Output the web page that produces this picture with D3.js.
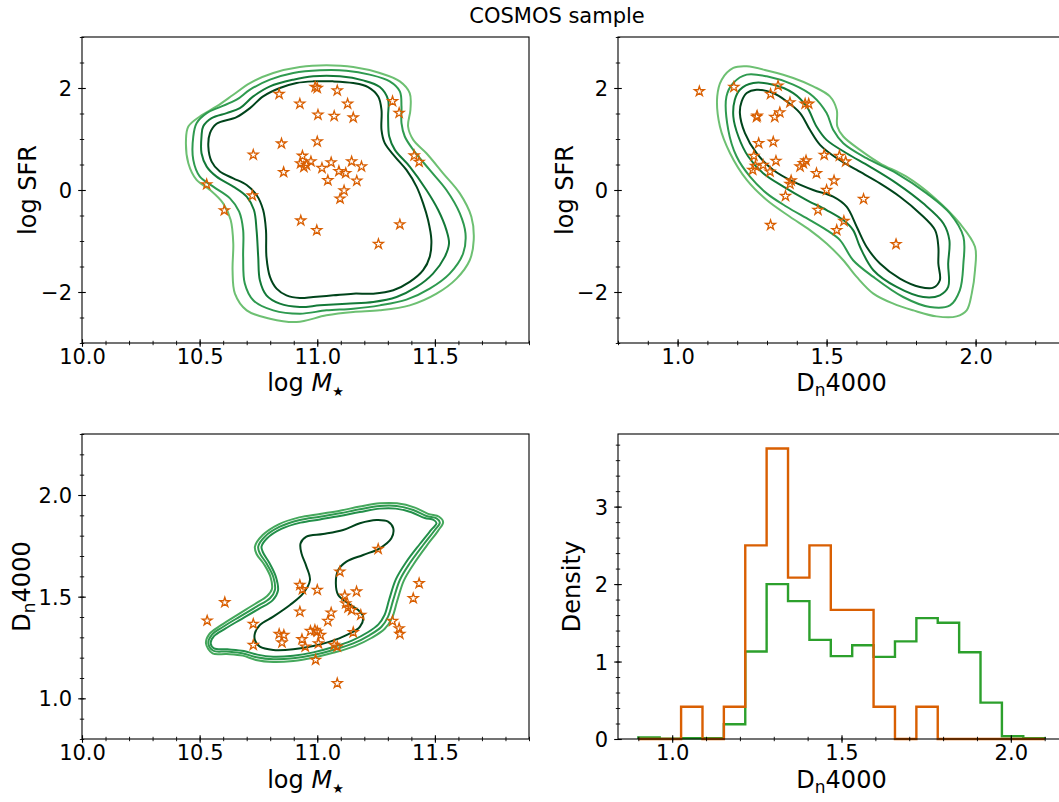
<!DOCTYPE html>
<html>
<head>
<meta charset="utf-8">
<script src="https://cdn.jsdelivr.net/npm/d3@7"></script>
<style>
  body { margin: 0; background: #fff; }
  text { font-family: "DejaVu Sans", sans-serif; fill: #000; }
</style>
</head>
<body>
<svg id="fig" width="1059" height="802"></svg>
<script>
// ---------------- data ----------------
// COSMOS galaxies: (log M*, log SFR)
const massSfrStars = [
  [10.838, 1.88], [10.991, 2.02], [11.0, 2.0], [11.085, 1.95], [10.926, 1.69],
  [11.129, 1.69], [11.003, 1.475], [11.072, 1.45], [11.153, 1.42], [11.32, 1.74],
  [11.348, 1.51], [10.848, 0.91], [11.0, 0.95], [10.728, 0.69], [10.937, 0.67],
  [10.929, 0.52], [10.943, 0.45], [10.973, 0.56], [10.954, 0.49], [10.857, 0.35],
  [11.02, 0.43], [11.059, 0.54], [11.146, 0.56], [11.188, 0.46], [11.092, 0.37],
  [11.121, 0.33], [11.045, 0.19], [11.168, 0.18], [11.114, -0.01], [11.097, -0.17],
  [11.412, 0.675], [11.433, 0.55], [10.53, 0.11], [10.724, -0.11], [10.605, -0.40],
  [10.93, -0.60], [10.998, -0.79], [11.351, -0.675], [11.26, -1.06]
];
// COSMOS galaxies: (Dn4000, log SFR)
const dnSfrStars = [
  [1.073, 1.934], [1.189, 2.019], [1.337, 2.045], [1.312, 1.881], [1.377, 1.717],
  [1.428, 1.691], [1.440, 1.691], [1.267, 1.455], [1.265, 1.43], [1.326, 1.43],
  [1.343, 1.52], [1.272, 0.918], [1.321, 0.944], [1.256, 0.669], [1.33, 0.57],
  [1.252, 0.393], [1.261, 0.472], [1.287, 0.49], [1.31, 0.36], [1.411, 0.459],
  [1.422, 0.524], [1.431, 0.577], [1.492, 0.688], [1.543, 0.669], [1.564, 0.557],
  [1.466, 0.328], [1.381, 0.184], [1.377, 0.118], [1.525, 0.184], [1.5, 0.0],
  [1.362, -0.118], [1.624, -0.177], [1.471, -0.393], [1.558, -0.61], [1.534, -0.787],
  [1.312, -0.688], [1.733, -1.062]
];
// COSMOS galaxies: (log M*, Dn4000)
const massDnStars = [
  [10.607, 1.472], [10.532, 1.382], [10.728, 1.366], [10.728, 1.262], [10.838, 1.316],
  [10.858, 1.311], [10.85, 1.274], [10.926, 1.557], [10.937, 1.536], [11.0, 1.533],
  [10.926, 1.426], [10.935, 1.29], [10.949, 1.254], [10.971, 1.331], [10.99, 1.336],
  [11.0, 1.328], [11.014, 1.311], [11.005, 1.27], [10.993, 1.189], [11.059, 1.421],
  [11.045, 1.38], [11.096, 1.623], [11.117, 1.505], [11.121, 1.467], [11.131, 1.446],
  [11.146, 1.434], [11.167, 1.525], [11.185, 1.41], [11.153, 1.325], [11.072, 1.262],
  [11.085, 1.254], [11.085, 1.074], [11.259, 1.734], [11.32, 1.38], [11.348, 1.344],
  [11.351, 1.316], [11.408, 1.492], [11.433, 1.566]
];

// Parent-sample density contours, innermost (highest level) first
const massSfrContour1 = [
  [10.572,1.298],[10.657,1.429],[10.714,1.606],[10.770,1.835],[10.841,1.999],[10.912,2.098],
  [10.983,2.130],[11.068,2.130],[11.153,2.098],[11.216,2.019],[11.259,1.835],[11.273,1.573],
  [11.273,1.180],[11.287,0.918],[11.330,0.656],[11.379,0.393],[11.422,0.066],[11.450,-0.262],
  [11.471,-0.590],[11.485,-0.983],[11.478,-1.311],[11.450,-1.573],[11.393,-1.803],[11.323,-1.967],
  [11.238,-2.032],[11.153,-2.032],[11.068,-2.065],[10.983,-2.098],[10.926,-2.117],[10.869,-2.065],
  [10.827,-1.934],[10.799,-1.704],[10.784,-1.311],[10.782,-0.787],[10.770,-0.393],[10.742,-0.098],
  [10.700,0.098],[10.643,0.229],[10.586,0.361],[10.551,0.557],[10.537,0.852],[10.544,1.114]
];
const massSfrContour2 = [
  [10.508,1.049],[10.515,1.245],[10.551,1.409],[10.615,1.508],[10.671,1.606],[10.728,1.835],
  [10.799,2.032],[10.898,2.163],[10.983,2.229],[11.096,2.229],[11.195,2.150],[11.266,2.019],
  [11.301,1.770],[11.301,1.442],[11.306,1.049],[11.330,0.787],[11.393,0.459],[11.464,0.0],
  [11.514,-0.393],[11.549,-0.787],[11.560,-1.049],[11.542,-1.311],[11.492,-1.639],[11.422,-1.901],
  [11.337,-2.098],[11.238,-2.196],[11.124,-2.229],[11.011,-2.262],[10.926,-2.294],[10.841,-2.229],
  [10.784,-2.065],[10.756,-1.770],[10.749,-1.311],[10.742,-0.787],[10.731,-0.393],[10.700,-0.131],
  [10.643,0.066],[10.572,0.262],[10.530,0.459],[10.508,0.721]
];
const massSfrContour3 = [
  [10.473,1.049],[10.487,1.311],[10.530,1.508],[10.586,1.626],[10.657,1.770],[10.714,1.967],
  [10.799,2.163],[10.898,2.294],[11.011,2.347],[11.124,2.340],[11.223,2.262],[11.308,2.130],
  [11.351,1.934],[11.358,1.639],[11.358,1.311],[11.372,1.049],[11.408,0.787],[11.478,0.393],
  [11.549,0.0],[11.606,-0.459],[11.630,-0.852],[11.620,-1.245],[11.563,-1.639],[11.478,-1.934],
  [11.379,-2.150],[11.266,-2.262],[11.153,-2.327],[11.039,-2.360],[10.926,-2.425],[10.813,-2.360],
  [10.728,-2.163],[10.692,-1.835],[10.685,-1.311],[10.685,-0.787],[10.668,-0.426],[10.629,-0.164],
  [10.558,0.066],[10.501,0.262],[10.473,0.590]
];
const massSfrContour4 = [
  [10.442,0.983],[10.452,1.245],[10.501,1.442],[10.572,1.639],[10.643,1.868],[10.714,2.098],
  [10.813,2.294],[10.926,2.412],[11.039,2.445],[11.153,2.412],[11.266,2.294],[11.351,2.130],
  [11.393,1.901],[11.396,1.573],[11.386,1.245],[11.408,0.983],[11.464,0.721],[11.535,0.328],
  [11.606,-0.066],[11.655,-0.524],[11.665,-0.983],[11.648,-1.377],[11.592,-1.737],[11.507,-2.032],
  [11.393,-2.262],[11.266,-2.360],[11.153,-2.393],[11.039,-2.458],[10.912,-2.589],[10.799,-2.524],
  [10.700,-2.360],[10.650,-2.032],[10.640,-1.573],[10.643,-1.049],[10.632,-0.590],[10.600,-0.262],
  [10.544,0.0],[10.487,0.197],[10.452,0.524]
];

const dnSfrContour1 = [
  [1.215,1.737],[1.232,1.901],[1.265,1.967],[1.321,1.901],[1.366,1.737],[1.411,1.508],
  [1.444,1.180],[1.478,0.885],[1.534,0.623],[1.601,0.393],[1.679,0.131],[1.746,-0.131],
  [1.813,-0.459],[1.864,-0.787],[1.875,-1.114],[1.875,-1.442],[1.880,-1.770],[1.858,-1.914],
  [1.813,-1.901],[1.746,-1.737],[1.679,-1.442],[1.634,-1.114],[1.601,-0.721],[1.567,-0.328],
  [1.522,-0.131],[1.455,0.0],[1.388,0.164],[1.321,0.393],[1.265,0.721],[1.226,1.114],[1.209,1.508]
];
const dnSfrContour2 = [
  [1.192,1.770],[1.209,1.967],[1.254,2.098],[1.321,2.065],[1.388,1.901],[1.433,1.639],
  [1.466,1.245],[1.500,0.983],[1.567,0.721],[1.645,0.459],[1.735,0.131],[1.824,-0.262],
  [1.892,-0.656],[1.912,-0.983],[1.908,-1.442],[1.908,-1.901],[1.880,-2.065],[1.824,-2.098],
  [1.735,-1.901],[1.657,-1.573],[1.612,-1.114],[1.589,-0.787],[1.556,-0.590],[1.500,-0.393],
  [1.433,-0.197],[1.355,0.066],[1.287,0.328],[1.237,0.656],[1.204,1.049],[1.187,1.442]
];
const dnSfrContour3 = [
  [1.164,1.835],[1.187,2.098],[1.232,2.262],[1.299,2.229],[1.388,2.065],[1.455,1.835],
  [1.500,1.508],[1.522,1.180],[1.556,0.918],[1.634,0.623],[1.735,0.328],[1.836,-0.066],
  [1.914,-0.459],[1.959,-0.918],[1.959,-1.442],[1.947,-1.967],[1.914,-2.262],[1.847,-2.294],
  [1.757,-2.098],[1.657,-1.704],[1.589,-1.377],[1.545,-0.983],[1.500,-0.787],[1.444,-0.590],
  [1.366,-0.328],[1.299,-0.066],[1.243,0.262],[1.198,0.656],[1.170,1.180]
];
const dnSfrContour4 = [
  [1.133,1.835],[1.148,2.163],[1.187,2.393],[1.232,2.425],[1.310,2.327],[1.388,2.196],
  [1.455,2.032],[1.511,1.835],[1.534,1.573],[1.536,1.245],[1.556,1.049],[1.612,0.787],
  [1.679,0.524],[1.768,0.262],[1.858,-0.131],[1.947,-0.656],[1.998,-1.114],[1.998,-1.573],
  [1.987,-2.032],[1.970,-2.360],[1.936,-2.478],[1.869,-2.478],[1.791,-2.360],[1.724,-2.229],
  [1.657,-2.032],[1.601,-1.704],[1.556,-1.377],[1.500,-1.049],[1.444,-0.787],[1.377,-0.524],
  [1.299,-0.197],[1.232,0.197],[1.176,0.721],[1.142,1.245]
];

const massDnContour1 = [
  [10.735,1.320],[10.756,1.361],[10.813,1.402],[10.884,1.459],[10.940,1.516],[10.969,1.582],
  [10.954,1.648],[10.933,1.713],[10.929,1.762],[10.954,1.795],[11.025,1.808],[11.110,1.828],
  [11.181,1.861],[11.252,1.877],[11.301,1.869],[11.323,1.836],[11.315,1.787],[11.266,1.738],
  [11.195,1.705],[11.124,1.672],[11.089,1.631],[11.079,1.566],[11.089,1.508],[11.131,1.467],
  [11.174,1.434],[11.195,1.402],[11.181,1.352],[11.124,1.311],[11.054,1.279],[10.983,1.257],
  [10.898,1.241],[10.813,1.238],[10.756,1.254],[10.735,1.287]
];
const massDnContour2 = [
  [10.547,1.270],[10.561,1.306],[10.609,1.343],[10.678,1.390],[10.750,1.439],[10.810,1.482],
  [10.833,1.530],[10.824,1.598],[10.796,1.667],[10.770,1.716],[10.763,1.746],[10.787,1.787],
  [10.847,1.833],[10.929,1.864],[11.011,1.880],[11.096,1.897],[11.181,1.916],[11.266,1.933],
  [11.334,1.933],[11.400,1.915],[11.457,1.887],[11.495,1.877],[11.507,1.861],[11.486,1.831],
  [11.436,1.759],[11.376,1.667],[11.334,1.585],[11.306,1.487],[11.286,1.410],[11.260,1.364],
  [11.215,1.325],[11.147,1.284],[11.065,1.251],[10.983,1.226],[10.898,1.210],[10.813,1.205],
  [10.745,1.215],[10.688,1.233],[10.618,1.241],[10.561,1.246]
];
const massDnContour3 = [
  [10.537,1.270],[10.551,1.311],[10.600,1.352],[10.671,1.402],[10.742,1.451],[10.799,1.492],
  [10.820,1.533],[10.813,1.598],[10.784,1.664],[10.756,1.713],[10.749,1.746],[10.777,1.795],
  [10.841,1.844],[10.926,1.877],[11.011,1.893],[11.096,1.910],[11.181,1.930],[11.266,1.946],
  [11.337,1.946],[11.408,1.926],[11.464,1.897],[11.507,1.885],[11.521,1.864],[11.500,1.828],
  [11.450,1.754],[11.393,1.664],[11.351,1.582],[11.323,1.484],[11.301,1.402],[11.273,1.352],
  [11.223,1.311],[11.153,1.270],[11.068,1.238],[10.983,1.213],[10.898,1.197],[10.813,1.192],
  [10.742,1.202],[10.685,1.221],[10.615,1.230],[10.558,1.234]
];
const massDnContour4 = [
  [10.527,1.270],[10.541,1.316],[10.593,1.361],[10.664,1.413],[10.735,1.464],[10.787,1.503],
  [10.807,1.536],[10.801,1.598],[10.773,1.661],[10.742,1.710],[10.735,1.746],[10.768,1.803],
  [10.836,1.856],[10.923,1.890],[11.011,1.907],[11.096,1.923],[11.181,1.943],[11.266,1.959],
  [11.339,1.959],[11.415,1.938],[11.471,1.907],[11.518,1.893],[11.535,1.867],[11.514,1.825],
  [11.464,1.749],[11.410,1.661],[11.368,1.579],[11.340,1.480],[11.317,1.393],[11.286,1.341],
  [11.232,1.298],[11.159,1.257],[11.071,1.225],[10.983,1.200],[10.898,1.184],[10.813,1.179],
  [10.739,1.189],[10.683,1.210],[10.615,1.218],[10.555,1.221]
];

// Dn4000 histograms (density), shared bin edges
const dnBinEdges = [0.9, 0.9632, 1.0263, 1.0895, 1.1526, 1.2158, 1.2789, 1.3421, 1.4053, 1.4684,
  1.5316, 1.5947, 1.6579, 1.7211, 1.7842, 1.8474, 1.9105, 1.9737, 2.0368, 2.1];
const dnDensityParent = [0.02, 0.005, 0.01, 0.01, 0.19, 1.13, 2.0, 1.78, 1.28, 1.07,
  1.21, 1.06, 1.26, 1.56, 1.50, 1.12, 0.47, 0.035, 0.01];
const dnDensityCosmos = [0, 0, 0.417, 0, 0.417, 2.5, 3.75, 2.083, 2.5, 1.667,
  1.667, 0.417, 0, 0.417, 0, 0, 0, 0, 0];

// Tick labels
const massTicks = [10.0, 10.5, 11.0, 11.5];
const sfrTicks = [-2, 0, 2];
const dnTicks = [1.0, 1.5, 2.0];
const densityTicks = [0, 1, 2, 3];

// ---------------- drawing ----------------
const svg = d3.select("#fig");
const contourColors = ["#00441b", "#137a38", "#2e9a4f", "#6dc072"];
const contourColors3 = ["#00441b", "#23904a", "#2f994f", "#45a85c"];
const starColor = "#d95f02";
const tickFont = 21, labelFont = 24;

const fmt1 = d3.format(".1f");
const fmt0 = d3.format("d");
const minorRange = (a, b, s) => d3.range(Math.round(a / s), Math.round(b / s) + 1).map(k => +(k * s).toFixed(6));

function frame(x, y, o) {
  const g = svg.append("g");
  const [xl, xr] = x.range();
  const [yb, yt] = y.range();
  // minor ticks
  g.append("g").attr("transform", `translate(0,${yb})`)
    .call(d3.axisBottom(x).tickValues(o.xMinor).tickFormat("").tickSizeOuter(0))
    .call(a => { a.select(".domain").remove(); a.selectAll("line").attr("y1", -2.2).attr("y2", 2.2).attr("stroke", "#000").attr("stroke-width", 0.9); });
  g.append("g").attr("transform", `translate(${xl},0)`)
    .call(d3.axisLeft(y).tickValues(o.yMinor).tickFormat("").tickSizeOuter(0))
    .call(a => { a.select(".domain").remove(); a.selectAll("line").attr("x1", -2.2).attr("x2", 2.2).attr("stroke", "#000").attr("stroke-width", 0.9); });
  // major ticks + labels
  g.append("g").attr("transform", `translate(0,${yb})`)
    .call(d3.axisBottom(x).tickValues(o.xMajor).tickFormat(o.xFmt).tickSizeOuter(0))
    .call(a => {
      a.select(".domain").remove();
      a.selectAll("line").attr("y1", -3.8).attr("y2", 3.8).attr("stroke", "#000").attr("stroke-width", 1.1);
      a.selectAll("text").attr("y", 21).attr("dy", null).attr("font-size", tickFont)
        .attr("font-family", "DejaVu Sans").attr("fill", "#000");
    });
  g.append("g").attr("transform", `translate(${xl},0)`)
    .call(d3.axisLeft(y).tickValues(o.yMajor).tickFormat(o.yFmt).tickSizeOuter(0))
    .call(a => {
      a.select(".domain").remove();
      a.selectAll("line").attr("x1", -3.8).attr("x2", 3.8).attr("stroke", "#000").attr("stroke-width", 1.1);
      a.selectAll("text").attr("x", -10).attr("dy", "0.36em").attr("font-size", tickFont)
        .attr("font-family", "DejaVu Sans").attr("fill", "#000");
    });
  // spines
  g.append("rect").attr("x", xl).attr("y", yt).attr("width", xr - xl).attr("height", yb - yt)
    .attr("fill", "none").attr("stroke", "#000").attr("stroke-width", 1.1);
  return g;
}

function xLabel(kind, cx, baseline) {
  const t = svg.append("text").attr("x", cx).attr("y", baseline).attr("text-anchor", "middle").attr("font-size", labelFont);
  if (kind === "mass") {
    t.append("tspan").text("log ");
    t.append("tspan").attr("font-style", "italic").text("M");
    t.append("tspan").attr("font-size", 13).attr("dy", 5).text("★");
  } else {
    t.append("tspan").text("D");
    t.append("tspan").attr("font-size", 17).attr("dy", 5).text("n");
    t.append("tspan").attr("dy", -5).text("4000");
  }
}
function yLabel(kind, cx, cy) {
  const t = svg.append("text").attr("transform", `translate(${cx},${cy}) rotate(-90)`)
    .attr("text-anchor", "middle").attr("dy", "0.35em").attr("font-size", labelFont);
  if (kind === "dn") {
    t.append("tspan").text("D");
    t.append("tspan").attr("font-size", 17).attr("dy", 5).text("n");
    t.append("tspan").attr("dy", -5).text("4000");
  } else {
    t.text(kind);
  }
}

const contourLine = (x, y) => d3.line().x(d => x(d[0])).y(d => y(d[1])).curve(d3.curveCatmullRomClosed.alpha(0.5));
const star = d3.symbol(d3.symbolStar, 30);

function contours(x, y, list, colors) {
  const line = contourLine(x, y);
  svg.append("g").selectAll("path").data(list.slice().reverse()).join("path")
    .attr("d", d => line(d)).attr("fill", "none")
    .attr("stroke", (d, i) => colors[list.length - 1 - i]).attr("stroke-width", 2);
}
function stars(x, y, pts) {
  svg.append("g").selectAll("path").data(pts).join("path")
    .attr("transform", d => `translate(${x(d[0])},${y(d[1])})`)
    .attr("d", star).attr("fill", "none").attr("stroke", starColor).attr("stroke-width", 1.3)
    .attr("stroke-linejoin", "miter");
}

// Panel geometry
const L = 82, R = 529, L2 = 618, R2 = 1065;
const T1 = 37, B1 = 343, T2 = 434, B2 = 739;

// Panel 1: log M* vs log SFR
const x1 = d3.scaleLinear([10, 11.9], [L, R]);
const y1 = d3.scaleLinear([-3, 3], [B1, T1]);
contours(x1, y1, [massSfrContour1, massSfrContour2, massSfrContour3, massSfrContour4], contourColors);
stars(x1, y1, massSfrStars);
frame(x1, y1, { xMajor: massTicks, xMinor: minorRange(10, 11.9, 0.1), xFmt: fmt1,
  yMajor: sfrTicks, yMinor: minorRange(-3, 3, 0.5), yFmt: fmt0 });
xLabel("mass", (L + R) / 2, 391);
yLabel("log SFR", 28, (T1 + B1) / 2);

// Panel 2: Dn4000 vs log SFR
const x2 = d3.scaleLinear([0.8, 2.3], [L2, R2]);
const y2 = d3.scaleLinear([-3, 3], [B1, T1]);
contours(x2, y2, [dnSfrContour1, dnSfrContour2, dnSfrContour3, dnSfrContour4], contourColors);
stars(x2, y2, dnSfrStars);
frame(x2, y2, { xMajor: dnTicks, xMinor: minorRange(0.8, 2.3, 0.1), xFmt: fmt1,
  yMajor: sfrTicks, yMinor: minorRange(-3, 3, 0.5), yFmt: fmt0 });
xLabel("dn", (L2 + R2) / 2, 391);
yLabel("log SFR", 565, (T1 + B1) / 2);

// Panel 3: log M* vs Dn4000
const x3 = d3.scaleLinear([10, 11.9], [L, R]);
const y3 = d3.scaleLinear([0.8, 2.3], [B2, T2]);
contours(x3, y3, [massDnContour1, massDnContour2, massDnContour3, massDnContour4], contourColors3);
stars(x3, y3, massDnStars);
frame(x3, y3, { xMajor: massTicks, xMinor: minorRange(10, 11.9, 0.1), xFmt: fmt1,
  yMajor: dnTicks, yMinor: minorRange(0.8, 2.3, 0.1), yFmt: fmt1 });
xLabel("mass", (L + R) / 2, 788);
yLabel("dn", 22, (T2 + B2) / 2);

// Panel 4: Dn4000 histograms
const x4 = d3.scaleLinear([0.84, 2.16], [L2, R2]);
const y4 = d3.scaleLinear([0, 3.9375], [B2, T2]);
function stepPath(vals) {
  const pts = [[dnBinEdges[0], 0]];
  vals.forEach((v, i) => { pts.push([dnBinEdges[i], v], [dnBinEdges[i + 1], v]); });
  pts.push([dnBinEdges[dnBinEdges.length - 1], 0]);
  return d3.line().x(d => x4(d[0])).y(d => y4(d[1]))(pts);
}
svg.append("path").attr("d", stepPath(dnDensityParent)).attr("fill", "none")
  .attr("stroke", "#2ca02c").attr("stroke-width", 2.4);
svg.append("path").attr("d", stepPath(dnDensityCosmos)).attr("fill", "none")
  .attr("stroke", starColor).attr("stroke-width", 2.4);
frame(x4, y4, { xMajor: dnTicks, xMinor: minorRange(0.9, 2.1, 0.1), xFmt: fmt1,
  yMajor: densityTicks, yMinor: minorRange(0, 3.8, 0.2), yFmt: fmt0 });
xLabel("dn", (L2 + R2) / 2, 788);
yLabel("Density", 572, (T2 + B2) / 2);

// Title
svg.append("text").attr("x", 557).attr("y", 23).attr("text-anchor", "middle")
  .attr("font-size", 21).text("COSMOS sample");
</script>
</body>
</html>
